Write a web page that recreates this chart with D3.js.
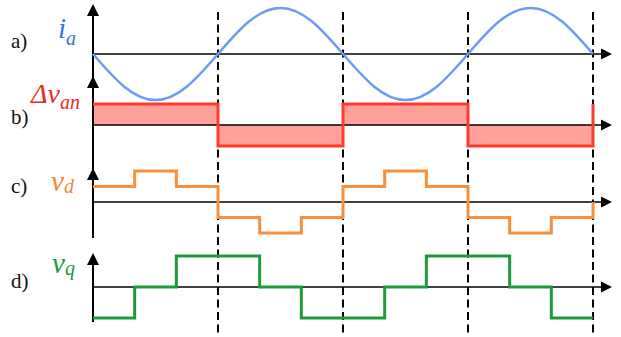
<!DOCTYPE html>
<html>
<head>
<meta charset="utf-8">
<script src="https://cdn.jsdelivr.net/npm/d3@7"></script>
<style>
  body { margin: 0; background: #fff; }
  text { font-family: "Liberation Serif", "DejaVu Serif", serif; }
</style>
</head>
<body>
<svg id="chart"></svg>
<script>
const width = 621;
const height = 337;

// phase current i_a, read every 45 degrees
const iaAngles = [0, 45, 90, 135, 180, 225, 270, 315, 360, 405, 450, 495, 540, 585, 630, 675, 720];
const iaValues = [0, -0.71, -1, -0.71, 0, 0.71, 1, 0.71, 0, -0.71, -1, -0.71, 0, 0.71, 1, 0.71, 0];

// voltage error, one level per half cycle
const dvAngles = [0, 180, 360, 540, 720];
const dvValues = [1, -1, 1, -1, 1];

// d and q components, one level per 60 degrees
const stepAngles = [0, 60, 120, 180, 240, 300, 360, 420, 480, 540, 600, 660, 720];
const vdValues = [1, 2, 1, -1, -2, -1, 1, 2, 1, -1, -2, -1, 0];
const vqValues = [-1, 0, 1, 1, 0, -1, -1, 0, 1, 1, 0, -1, -1];

// dashed markers at the current zero crossings
const crossAngles = [180, 360, 540, 720];

const panelLabels = ["a)", "b)", "c)", "d)"];

const svg = d3.select("#chart")
    .attr("width", width)
    .attr("height", height);

const x = d3.scaleLinear().domain([0, 720]).range([93, 593]);

// one y scale per panel
const yA = d3.scaleLinear().domain([-1, 1]).range([100, 8]);
const yB = d3.scaleLinear().domain([-1, 1]).range([146, 104]);
const yC = d3.scaleLinear().domain([-2, 2]).range([233, 171]);
const yD = d3.scaleLinear().domain([-1, 1]).range([318, 256]);

const x0 = x(0);
const arrowX = 612;

// red filled area of panel b
svg.append("path")
    .datum(dvAngles.map((a, i) => [a, dvValues[i]]))
    .attr("fill", "#ffa19a")
    .attr("d", d3.area()
        .curve(d3.curveStepAfter)
        .x(d => x(d[0]))
        .y0(yB(0))
        .y1(d => yB(d[1])));

// axes
const axes = [
    { y: yA(0), top: 4, bottom: 78 },
    { y: yB(0), top: 76, bottom: 170 },
    { y: yC(0), top: 168, bottom: 238 },
    { y: yD(0), top: 253, bottom: 322 }
];

axes.forEach(a => {
    svg.append("line")
        .attr("x1", x0).attr("x2", arrowX - 8)
        .attr("y1", a.y).attr("y2", a.y)
        .attr("stroke", "#000").attr("stroke-width", 1.6);
    svg.append("path")
        .attr("d", `M${arrowX},${a.y} L${arrowX - 11},${a.y - 5.5} L${arrowX - 11},${a.y + 5.5} Z`)
        .attr("fill", "#000");
    svg.append("line")
        .attr("x1", x0).attr("x2", x0)
        .attr("y1", a.top + 8).attr("y2", a.bottom)
        .attr("stroke", "#000").attr("stroke-width", 2);
    svg.append("path")
        .attr("d", `M${x0},${a.top} L${x0 - 6},${a.top + 12} L${x0 + 6},${a.top + 12} Z`)
        .attr("fill", "#000");
});

// dashed zero-crossing lines
svg.selectAll(".cross")
    .data(crossAngles)
    .enter()
    .append("line")
    .attr("class", "cross")
    .attr("x1", d => x(d)).attr("x2", d => x(d))
    .attr("y1", 12).attr("y2", height)
    .attr("stroke", "#000")
    .attr("stroke-width", 2)
    .attr("stroke-dasharray", "8,4.5");

// current
svg.append("path")
    .datum(iaAngles.map((a, i) => [a, iaValues[i]]))
    .attr("fill", "none")
    .attr("stroke", "#6d9cf2")
    .attr("stroke-width", 2.5)
    .attr("d", d3.line().curve(d3.curveNatural).x(d => x(d[0])).y(d => yA(d[1])));

// step lines
const step = (yScale) => d3.line().curve(d3.curveStepAfter).x(d => x(d[0])).y(d => yScale(d[1]));

svg.append("path")
    .datum(dvAngles.map((a, i) => [a, dvValues[i]]))
    .attr("fill", "none")
    .attr("stroke", "#ff3b2e")
    .attr("stroke-width", 3)
    .attr("d", step(yB));

svg.append("path")
    .datum(stepAngles.map((a, i) => [a, vdValues[i]]))
    .attr("fill", "none")
    .attr("stroke", "#f78f3c")
    .attr("stroke-width", 3)
    .attr("d", step(yC));

svg.append("path")
    .datum(stepAngles.map((a, i) => [a, vqValues[i]]))
    .attr("fill", "none")
    .attr("stroke", "#1e9a3c")
    .attr("stroke-width", 3)
    .attr("d", step(yD));

// panel letters
const labelY = [48, 124, 193, 288];
svg.selectAll(".panel")
    .data(panelLabels)
    .enter()
    .append("text")
    .attr("class", "panel")
    .attr("x", 11)
    .attr("y", (d, i) => labelY[i])
    .attr("font-size", 21)
    .attr("fill", "#111")
    .text(d => d);

// signal names with subscripts
const names = [
    { main: "i", sub: "a", x: 58, y: 38, color: "#3d6fe6", size: 29, subSize: 20, dy: 7 },
    { main: "\u0394v", sub: "an", x: 31, y: 103, color: "#ee2a22", size: 28, subSize: 20, dy: 6 },
    { main: "v", sub: "d", x: 51, y: 191, color: "#f5863a", size: 29, subSize: 20, dy: 2 },
    { main: "v", sub: "q", x: 52, y: 273, color: "#1c9640", size: 29, subSize: 20, dy: 2 }
];

names.forEach(n => {
    const t = svg.append("text")
        .attr("x", n.x).attr("y", n.y)
        .attr("fill", n.color)
        .attr("font-style", "italic")
        .attr("font-size", n.size);
    t.append("tspan").text(n.main);
    t.append("tspan").attr("font-size", n.subSize).attr("dy", n.dy).text(n.sub);
});
</script>
</body>
</html>
